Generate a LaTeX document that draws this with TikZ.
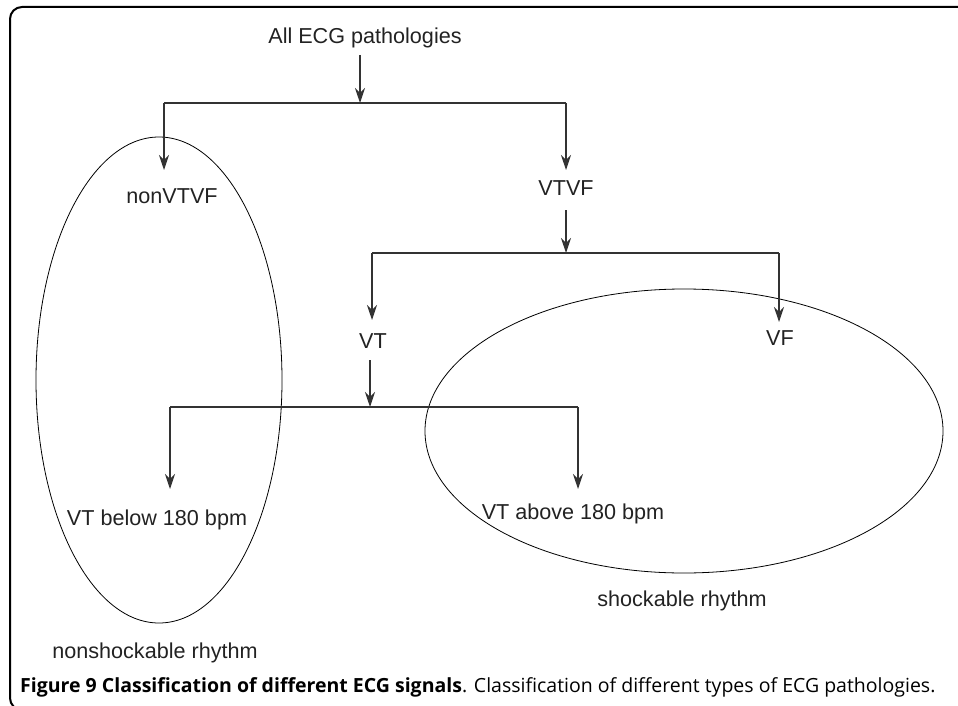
\documentclass[tikz,border=0pt]{standalone}
\usepackage{fontspec}
\setmainfont{Liberation Sans}
\newfontfamily\capfont{Open Sans}
\usetikzlibrary{arrows.meta}
\definecolor{labelgray}{HTML}{222222}
\definecolor{linegray}{HTML}{333333}
\begin{document}
\begin{tikzpicture}[x=1pt,y=-1pt,
  lbl/.style={font=\fontsize{21.6}{24}\selectfont, text=labelgray, inner sep=0pt, anchor=base},
  conn/.style={draw=linegray, line width=1.1pt},
  arr/.style={conn, -{Stealth[length=15pt,width=10pt,inset=5pt]}},
  oval/.style={draw=black, line width=0.8pt},
  framebox/.style={draw=black, line width=2pt, rounded corners=12pt}]
\useasboundingbox (0,0) rectangle (958,706);
\begin{scope}
  \clip (0,0) rectangle (958,706);
  \draw[framebox] (10,7) rectangle (980,710);
\end{scope}

% ellipses
\draw[oval] (159,380) ellipse [x radius=123, y radius=243];
\draw[oval] (684,431) ellipse [x radius=259, y radius=142];

% labels
\node[lbl] (all) at (365,44) {All ECG pathologies};
\node[lbl] (nonv) at (172,203) {nonVTVF};
\node[lbl] (vtvf) at (566,195) {VTVF};
\node[lbl] (vt) at (373,348) {VT};
\node[lbl] (vf) at (780,345) {VF};
\node[lbl] (below) at (157,525) {VT below 180 bpm};
\node[lbl] (above) at (573,519) {VT above 180 bpm};
\node[lbl] (shock) at (682,606) {shockable rhythm};
\node[lbl] (nonshock) at (155,658) {nonshockable rhythm};
\node[anchor=base west, inner sep=0pt, font=\capfont\fontsize{19.5}{22}\selectfont] (cap) at (20,692)
  {\textbf{Figure 9 Classification of different ECG signals}. Classification of different types of ECG pathologies.};

% level 1
\coordinate (a0s) at (360,55);
\coordinate (a0e) at (360,103);
\coordinate (b1l) at (164,103);
\coordinate (b1r) at (566,103);
\coordinate (t1l) at (164,170);
\coordinate (t1r) at (566,170);
\draw[arr] (a0s) -- (a0e);
\draw[conn] (b1l) -- (b1r);
\draw[arr] (b1l) -- (t1l);
\draw[arr] (b1r) -- (t1r);

% level 2
\coordinate (a1s) at (566,210);
\coordinate (a1e) at (566,253);
\coordinate (b2l) at (372,253);
\coordinate (b2r) at (779,253);
\coordinate (t2l) at (372,320);
\coordinate (t2r) at (779,322);
\draw[arr] (a1s) -- (a1e);
\draw[conn] (b2l) -- (b2r);
\draw[arr] (b2l) -- (t2l);
\draw[arr] (b2r) -- (t2r);

% level 3
\coordinate (a2s) at (370,360);
\coordinate (a2e) at (370,407);
\coordinate (b3l) at (170,407);
\coordinate (b3r) at (578,407);
\coordinate (t3l) at (170,489);
\coordinate (t3r) at (578,489);
\draw[arr] (a2s) -- (a2e);
\draw[conn] (b3l) -- (b3r);
\draw[arr] (b3l) -- (t3l);
\draw[arr] (b3r) -- (t3r);
\end{tikzpicture}
\end{document}
